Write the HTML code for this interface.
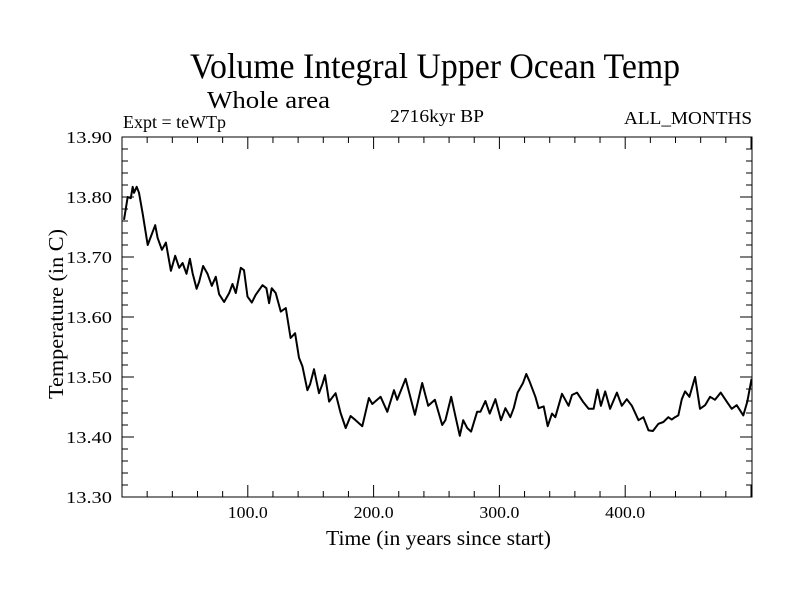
<!DOCTYPE html>
<html><head><meta charset="utf-8"><style>
html,body{margin:0;padding:0;background:#fff;}
svg{display:block;font-family:"Liberation Serif",serif;}
</style></head><body>
<svg id="chart" width="800" height="600" xmlns="http://www.w3.org/2000/svg">
<text x="190" y="78" font-size="36" textLength="490" lengthAdjust="spacingAndGlyphs">Volume Integral Upper Ocean Temp</text>
<text x="207" y="108" font-size="24" textLength="123" lengthAdjust="spacingAndGlyphs">Whole area</text>
<text x="123" y="128" font-size="18" textLength="103" lengthAdjust="spacingAndGlyphs">Expt = teWTp</text>
<text x="390" y="122" font-size="18" textLength="94" lengthAdjust="spacingAndGlyphs">2716kyr BP</text>
<text x="624" y="124" font-size="18" textLength="128" lengthAdjust="spacingAndGlyphs">ALL_MONTHS</text>
<text x="326" y="545" font-size="21" textLength="225" lengthAdjust="spacingAndGlyphs">Time (in years since start)</text>
<text transform="translate(63,399) rotate(-90)" font-size="21" textLength="170" lengthAdjust="spacingAndGlyphs">Temperature (in C)</text>
<g id="axes"></g>
<polyline id="series" fill="none" stroke="#000" stroke-width="2" stroke-linejoin="round"/>
</svg>
<script>
const years=[1.6,4.5,7,8.5,9.5,11.7,13.5,16.4,20.4,26.4,28.3,31.7,34.9,38.9,42.3,45.5,48.2,51.3,54,56.1,59.3,61.4,64.5,68,71.4,74.6,77.2,81.2,85.2,87.8,90.5,94.4,97,99.8,103.2,106.3,111.7,114.8,116.9,119,122.2,126.2,130.2,134,137.6,140.7,143.4,147.4,149.5,152.6,156.6,159.3,161.4,164.6,169.8,173.8,177.8,181.7,185.7,191,196.3,199,205.6,210.9,216.2,218.8,225.4,232.8,238.6,243.4,248.7,254.5,257.1,261.7,265.1,268.5,271.2,274.4,277.5,282.3,284.9,288.9,292.3,296.8,301.3,304.8,308.7,311.4,314.5,318.8,321.4,324.1,328.6,331.2,335.2,338.4,341.8,344.4,349.8,355,357.7,361.7,366.4,370.9,374.9,378,380.7,384.1,388,393.4,397.3,401.3,405.3,410.6,414.5,418.5,422,426.4,430.4,434.3,437,439.6,442.2,445,447.6,451,455.6,459.5,463.5,467.5,471.4,475.9,480.7,484.7,488.6,493.9,497.1,500.5];
const temps=[13.762,13.80,13.798,13.817,13.807,13.817,13.807,13.773,13.72,13.753,13.732,13.712,13.724,13.677,13.702,13.682,13.69,13.672,13.697,13.673,13.647,13.659,13.685,13.672,13.652,13.667,13.638,13.625,13.64,13.655,13.64,13.682,13.678,13.634,13.624,13.637,13.653,13.648,13.623,13.648,13.64,13.609,13.615,13.565,13.573,13.532,13.518,13.478,13.488,13.513,13.473,13.488,13.503,13.459,13.473,13.44,13.415,13.435,13.428,13.418,13.465,13.455,13.467,13.442,13.478,13.462,13.497,13.437,13.49,13.452,13.462,13.42,13.428,13.467,13.434,13.402,13.428,13.415,13.409,13.442,13.442,13.46,13.439,13.463,13.428,13.448,13.433,13.448,13.474,13.49,13.505,13.492,13.467,13.448,13.451,13.418,13.439,13.433,13.472,13.452,13.47,13.474,13.459,13.447,13.447,13.479,13.452,13.476,13.447,13.474,13.452,13.463,13.452,13.428,13.433,13.411,13.41,13.422,13.425,13.433,13.429,13.433,13.436,13.463,13.476,13.467,13.50,13.447,13.453,13.467,13.462,13.474,13.459,13.447,13.453,13.436,13.459,13.497];
const xTickValues=[100,200,300,400];
const xTickLabels=["100.0","200.0","300.0","400.0"];
const yTickValues=[13.3,13.4,13.5,13.6,13.7,13.8,13.9];
const yTickLabels=["13.30","13.40","13.50","13.60","13.70","13.80","13.90"];
const L=122,R=752,T=137,B=497,X0=0,X1=500.8,Y0=13.3,Y1=13.9;
const sx=v=>L+(v-X0)/(X1-X0)*(R-L);
const sy=v=>B-(v-Y0)/(Y1-Y0)*(B-T);
const NS="http://www.w3.org/2000/svg";
const g=document.getElementById('axes');
function mk(tag,attrs){const e=document.createElementNS(NS,tag);for(const k in attrs)e.setAttribute(k,attrs[k]);g.appendChild(e);return e;}
const frame=mk('rect',{x:L,y:T,width:R-L,height:B-T,fill:'none',stroke:'#000','stroke-width':1});


for(let v=20;v<X1;v+=20){const x=sx(v);const maj=Math.abs(v%100)<1e-6;const len=maj?12:6;
 const t1=mk('line',{x1:x,x2:x,y1:B,y2:B-len,stroke:'#000'});
 
 
 const t2=mk('line',{x1:x,x2:x,y1:T,y2:T+len,stroke:'#000'});
 
 }
for(let i=1;i<30;i++){const v=Y0+i*0.02;const y=sy(v);const maj=i%5===0;const len=maj?12:6;
 const t1=mk('line',{x1:L,x2:L+len,y1:y,y2:y,stroke:'#000'});
 
 
 const t2=mk('line',{x1:R,x2:R-len,y1:y,y2:y,stroke:'#000'});
 
 }
xTickValues.forEach((v,i)=>{const t=mk('text',{x:sx(v)-20,y:518,'font-size':17,textLength:40,lengthAdjust:'spacingAndGlyphs'});t.textContent=xTickLabels[i];
 
 });
yTickValues.forEach((v,i)=>{const t=mk('text',{x:66,y:sy(v)+6,'font-size':17,textLength:46,lengthAdjust:'spacingAndGlyphs'});t.textContent=yTickLabels[i];
 
 });
document.getElementById('series').setAttribute('points',years.map((y,i)=>sx(y).toFixed(1)+','+sy(temps[i]).toFixed(1)).join(' '));
</script>
</body></html>
